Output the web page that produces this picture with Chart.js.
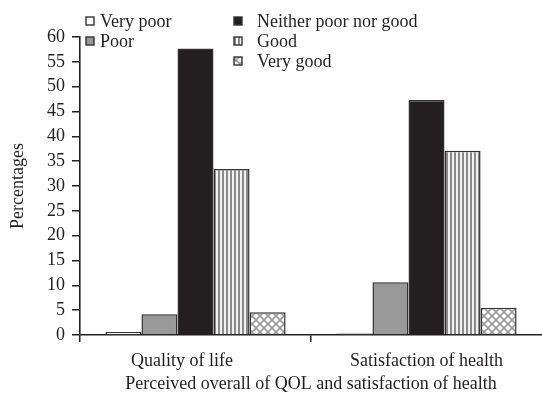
<!DOCTYPE html>
<html>
<head>
<meta charset="utf-8">
<script src="https://cdn.jsdelivr.net/npm/chart.js@4"></script>
<style>
  html, body { margin: 0; padding: 0; background: #fff; }
  #wrap { width: 542px; height: 401px; }
</style>
</head>
<body>
<div id="wrap"><canvas id="c"></canvas></div>
<script>
const categories = ['Quality of life', 'Satisfaction of health'];
const seriesLabels = ['Very poor', 'Poor', 'Neither poor nor good', 'Good', 'Very good'];
const veryPoor = [0.6, 0.3];
const poor = [4.2, 10.6];
const neither = [57.7, 47.3];
const good = [33.4, 37.1];
const veryGood = [4.6, 5.5];
const yTicks = [0, 5, 10, 15, 20, 25, 30, 35, 40, 45, 50, 55, 60];
const xTitle = 'Perceived overall of QOL and satisfaction of health';
const yTitle = 'Percentages';

const DARK = '#231f20';
const FONT = '"Liberation Serif", "Times New Roman", serif';

function stripePattern() {
  const t = document.createElement('canvas');
  t.width = 4; t.height = 4;
  const g = t.getContext('2d');
  g.fillStyle = '#f2f2f2'; g.fillRect(0, 0, 4, 4);
  g.fillStyle = '#8a8a8a'; g.fillRect(2, 0, 2, 4);
  return g.createPattern(t, 'repeat');
}
function hatchPattern() {
  const s = 8;
  const t = document.createElement('canvas');
  t.width = s; t.height = s;
  const g = t.getContext('2d');
  g.fillStyle = '#ffffff'; g.fillRect(0, 0, s, s);
  g.strokeStyle = '#9a9a9a'; g.lineWidth = 1.6;
  for (const o of [-s, 0, s]) {
    g.beginPath(); g.moveTo(o, 0); g.lineTo(o + s, s); g.stroke();
    g.beginPath(); g.moveTo(o + s, 0); g.lineTo(o, s); g.stroke();
  }
  return g.createPattern(t, 'repeat');
}

const fills = ['#ffffff', '#999999', DARK, stripePattern(), hatchPattern()];
const values = [veryPoor, poor, neither, good, veryGood];

const legendLayout = [
  { box: 86, text: 100, y: 21 },
  { box: 86, text: 100, y: 41 },
  { box: 234, text: 257, y: 21 },
  { box: 234, text: 257, y: 41 },
  { box: 234, text: 257, y: 61 }
];

const legendPlugin = {
  id: 'customLegend',
  afterDraw(chart) {
    const ctx = chart.ctx;
    ctx.save();
    ctx.font = '18px ' + FONT;
    ctx.textBaseline = 'middle';
    ctx.textAlign = 'left';
    chart.data.datasets.forEach((ds, i) => {
      const L = legendLayout[i];
      ctx.fillStyle = ds.backgroundColor;
      ctx.fillRect(L.box, L.y - 4, 8, 8);
      ctx.strokeStyle = '#333';
      ctx.lineWidth = 1.4;
      ctx.strokeRect(L.box, L.y - 4, 8, 8);
      ctx.fillStyle = DARK;
      ctx.fillText(ds.label, L.text, L.y + 1);
    });
    ctx.restore();
  }
};

new Chart(document.getElementById('c'), {
  type: 'bar',
  data: {
    labels: categories,
    datasets: seriesLabels.map((lab, i) => ({
      label: lab,
      data: values[i],
      backgroundColor: fills[i],
      borderColor: '#333333',
      borderWidth: 1.5,
      borderSkipped: 'bottom',
      categoryPercentage: 0.78,
      barPercentage: 1.0
    }))
  },
  options: {
    responsive: true,
    maintainAspectRatio: false,
    animation: false,
    devicePixelRatio: 1,
    layout: { padding: { top: 37, right: 0, bottom: 0, left: 0 } },
    plugins: { legend: { display: false }, tooltip: { enabled: false } },
    scales: {
      x: {
        afterFit(s) { s.height = 66; },
        grid: {
          drawOnChartArea: false,
          drawTicks: true,
          tickLength: 7,
          lineWidth: 1.5,
          color: (c) => (c.tick ? DARK : 'rgba(0,0,0,0)')
        },
        border: { color: DARK, width: 1.6 },
        ticks: {
          color: DARK, font: { family: FONT, size: 18 }, padding: 8, maxRotation: 0,
          callback(v, i) { const t = categories[i]; return i === 0 ? t + '      ' : t; }
        },
        title: { display: true, text: xTitle, color: DARK, font: { family: FONT, size: 18 }, padding: { top: 0, bottom: 6 } }
      },
      y: {
        min: 0, max: 60,
        afterFit(s) { s.width = 80; },
        afterBuildTicks(s) { s.ticks = yTicks.map(v => ({ value: v })); },
        grid: { drawOnChartArea: false, drawTicks: true, tickLength: 8, lineWidth: 1.5, color: DARK },
        border: { color: DARK, width: 1.6 },
        ticks: { color: DARK, font: { family: FONT, size: 18 }, padding: 7 },
        title: { display: true, text: yTitle, color: DARK, font: { family: FONT, size: 18 }, padding: { top: 7, bottom: 0 } }
      }
    }
  },
  plugins: [legendPlugin]
});
</script>
</body>
</html>
